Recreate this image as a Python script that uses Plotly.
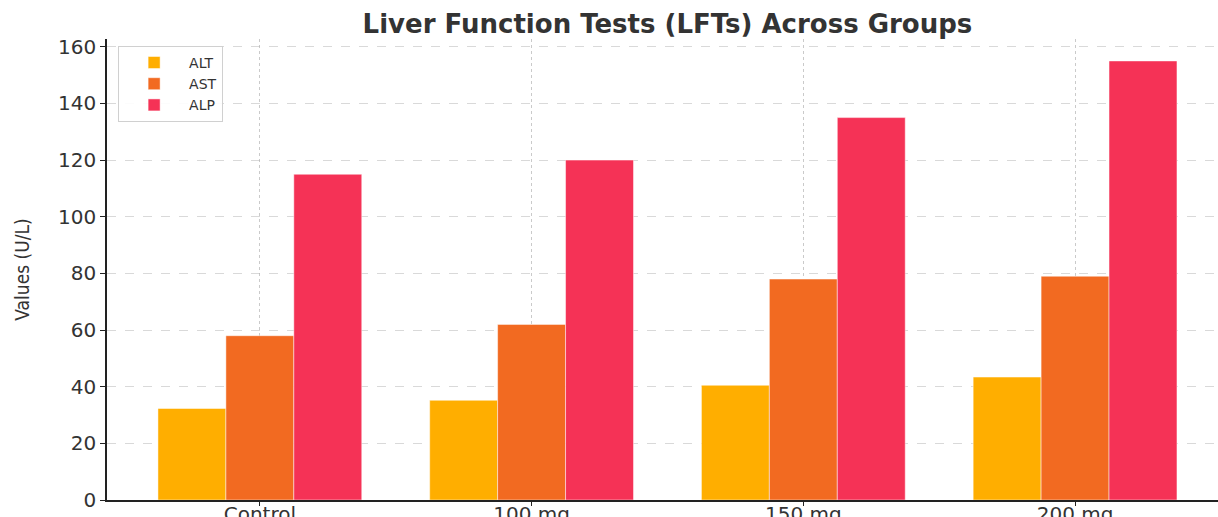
import plotly.graph_objects as go

groups = ["Control", "100 mg", "150 mg", "200 mg"]
alt = [32.3, 35.2, 40.5, 43.4]
ast = [58, 62, 78, 79]
alp = [115, 120, 135, 155]
series_names = ["ALT", "AST", "ALP"]
colors = ["#FFAE00", "#F26A21", "#F53256"]
y_ticks = [0, 20, 40, 60, 80, 100, 120, 140, 160]

fig = go.Figure()
for name, vals, col in zip(series_names, [alt, ast, alp], colors):
    fig.add_trace(go.Bar(
        x=groups, y=vals, name=name,
        marker=dict(color=col, line=dict(color="rgba(255,255,255,0.6)", width=0.8)),
    ))

font_main = "DejaVu Sans"
fig.update_layout(
    width=1218, height=517,
    margin=dict(l=107, r=0, t=39, b=17, autoexpand=False),
    paper_bgcolor="white", plot_bgcolor="white",
    barmode="group", bargap=0.25, bargroupgap=0,
    title=dict(text="<b>Liver Function Tests (LFTs) Across Groups</b>",
               x=0.548, xanchor="center", y=0.953, yanchor="middle",
               font=dict(family=font_main, size=26, color="#333333")),
    legend=dict(x=0.01, y=0.985, xanchor="left", yanchor="top",
                bgcolor="rgba(255,255,255,0.9)", bordercolor="#d0d0d0", borderwidth=1,
                font=dict(family=font_main, size=14, color="#333333"),
                itemwidth=60),
    showlegend=True,
)
fig.update_xaxes(
    type="category", range=[-0.5625, 3.526], automargin=False,
    showline=True, linecolor="#222222", linewidth=1.5,
    ticks="outside", ticklen=4, tickcolor="#222222", tickwidth=1.2,
    tickfont=dict(family=font_main, size=20, color="#333333"),
    ticklabelstandoff=-9,
    showgrid=True, gridcolor="rgba(150,150,150,0.5)", griddash="dot", gridwidth=1,
    layer="above traces",
)
fig.update_yaxes(
    range=[0, 162.75], tickvals=y_ticks, automargin=False,
    showline=True, linecolor="#222222", linewidth=1.5,
    ticks="outside", ticklen=5, tickcolor="#222222", tickwidth=1.2,
    tickfont=dict(family=font_main, size=20, color="#333333"),
    showgrid=True, gridcolor="rgba(180,180,180,0.5)", griddash="dash", gridwidth=1,
    zeroline=False,
    title=dict(text="Values (U/L)", standoff=23,
               font=dict(family="Liberation Sans Narrow, DejaVu Sans Condensed", size=19, color="#333333")),
    layer="above traces",
)

fig.write_html("out.html", config={"displayModeBar": False},
               post_script="document.body.style.margin='0';document.body.style.overflow='hidden';")
